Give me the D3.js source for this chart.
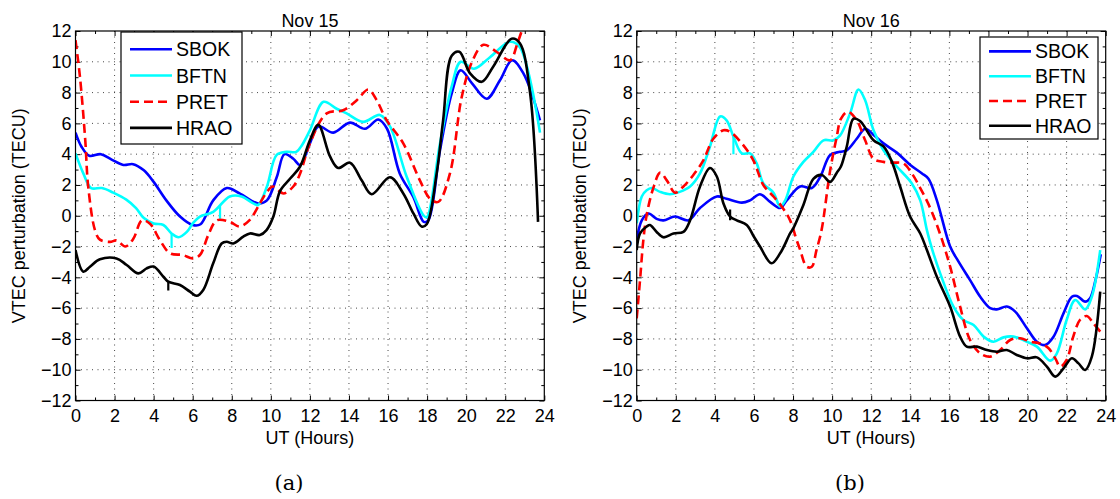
<!DOCTYPE html>
<html>
<head>
<meta charset="utf-8">
<script src="https://cdn.jsdelivr.net/npm/d3@7"></script>
<style>
  body { margin: 0; background: #fff; }
  svg { display: block; }
  text { font-family: "Liberation Sans", Arial, sans-serif; fill: #000; }
</style>
</head>
<body>
<div id="display"></div>
<script>
// stations, in legend order
var stations = ["SBOK", "BFTN", "PRET", "HRAO"];
var colors = ["#0000ff", "#00ffff", "#ff0000", "#000000"];

var xTicks = [0, 2, 4, 6, 8, 10, 12, 14, 16, 18, 20, 22, 24];
var yTicks = [-12, -10, -8, -6, -4, -2, 0, 2, 4, 6, 8, 10, 12];

// Nov 15 : [UT hour, VTEC perturbation]
var sbok15 = [[0,5.4],[0.3,4.5],[0.7,3.9],[1.3,4.0],[1.85,3.65],[2.45,3.3],[2.95,3.35],[3.5,2.95],[4.0,2.2],[4.65,1.0],[5.35,-0.05],[6.0,-0.6],[6.4,-0.55],[7.05,1.0],[7.75,1.8],[8.4,1.45],[9.35,0.8],[9.8,1.0],[10.3,2.5],[10.7,4.0],[11.15,3.7],[11.5,3.3],[12.0,4.7],[12.43,5.8],[13.2,5.4],[14.05,6.05],[14.82,5.65],[15.5,6.25],[15.95,5.65],[16.6,2.75],[17.3,1.2],[17.83,-0.4],[18.06,-0.3],[18.66,4.25],[19.26,7.95],[19.72,9.45],[20.3,8.6],[21.05,7.6],[21.73,8.8],[22.35,10.1],[22.93,9.25],[23.78,6.2]];
var bftn15 = [[0,4.05],[0.4,2.75],[0.8,1.8],[1.35,1.8],[1.93,1.5],[2.6,1.05],[3.1,0.5],[3.5,-0.15],[4.0,-0.5],[4.5,-0.6],[4.92,-1.15],[5.27,-1.4],[5.7,-1.05],[6.0,-0.5],[6.37,-0.05],[7.05,0.25],[7.9,1.25],[8.5,1.25],[9.1,0.8],[9.35,0.7],[9.8,1.9],[10.3,3.95],[10.8,4.15],[11.3,4.15],[11.6,4.6],[12.0,5.55],[12.7,7.4],[13.37,6.95],[13.88,6.65],[14.73,6.1],[15.58,6.55],[16.1,5.8],[16.95,2.55],[17.8,0.05],[17.98,-0.1],[18.66,4.7],[19.26,8.4],[19.72,10.0],[20.4,9.55],[21.22,10.3],[22.24,11.3],[22.75,10.95],[23.78,5.4]];
var pret15 = [[0,11.4],[0.23,9.0],[0.5,4.9],[0.65,1.9],[1.0,-0.95],[1.25,-1.55],[1.77,-1.7],[2.1,-1.6],[2.55,-2.0],[2.96,-1.5],[3.4,-0.3],[3.8,-0.5],[4.33,-1.6],[4.84,-2.44],[5.5,-2.55],[6.0,-2.77],[6.37,-2.55],[6.8,-1.25],[7.23,-0.3],[7.9,-0.4],[8.4,-0.7],[8.9,-0.3],[9.44,0.8],[9.8,1.55],[10.1,1.9],[10.65,1.45],[11.15,1.9],[11.5,2.75],[12.0,4.7],[12.86,6.65],[13.7,6.85],[14.4,7.5],[14.99,8.2],[15.42,7.5],[15.93,6.2],[16.78,4.7],[17.63,2.3],[18.15,1.1],[18.57,0.9],[19.17,2.75],[19.77,7.7],[20.3,10.0],[20.88,11.1],[21.56,10.65],[22.24,10.1],[22.65,11.3],[23.0,12.6]];
var hrao15 = [[0,-2.23],[0.4,-3.63],[0.74,-3.31],[1.25,-2.83],[2.1,-2.77],[2.62,-3.2],[3.22,-3.74],[3.64,-3.42],[4.0,-3.3],[4.5,-3.96],[4.75,-4.28],[5.35,-4.5],[5.86,-4.93],[6.2,-5.2],[6.54,-4.82],[7.05,-3.09],[7.48,-1.8],[7.74,-1.69],[8.08,-1.8],[8.59,-1.36],[8.93,-1.15],[9.44,-1.25],[9.78,-0.93],[10.13,-0.05],[10.47,1.6],[10.98,2.4],[11.5,3.2],[12.0,4.9],[12.43,5.9],[13.03,3.85],[13.45,3.1],[14.05,3.45],[14.65,2.3],[15.16,1.4],[16.1,2.5],[16.78,1.45],[17.3,0.15],[17.72,-0.7],[17.98,-0.55],[18.49,2.75],[18.82,6.2],[19.26,10.4],[19.65,10.65],[20.2,9.25],[20.8,8.7],[21.39,9.7],[22.33,11.5],[22.75,11.2],[23.27,8.0],[23.68,-0.4]];

// Nov 16
var sbok16 = [[0,-1.6],[0.26,-0.3],[0.6,0.15],[1.02,-0.2],[1.37,-0.3],[1.96,-0.05],[2.65,-0.3],[3.24,0.5],[4.1,1.25],[4.6,1.1],[5.38,0.85],[5.8,1.0],[6.31,1.4],[6.83,0.9],[7.34,0.5],[7.68,1.0],[8.36,1.9],[8.96,1.8],[9.4,2.55],[9.9,3.95],[10.4,4.15],[10.75,4.25],[11.26,5.0],[11.69,5.65],[12.12,5.25],[12.63,4.7],[13.31,4.1],[14.0,3.3],[14.6,2.75],[14.93,2.4],[15.36,1.0],[16.04,-2.0],[16.47,-2.98],[17.06,-4.18],[17.58,-5.26],[18.09,-6.0],[18.43,-6.08],[18.94,-5.9],[19.37,-6.23],[19.97,-7.31],[20.48,-8.18],[20.9,-8.4],[21.33,-7.86],[21.84,-6.34],[22.27,-5.26],[22.53,-5.21],[22.95,-5.58],[23.2,-5.36],[23.46,-4.28],[23.75,-2.5]];
var bftn16 = [[0,-0.5],[0.26,1.25],[0.51,1.65],[0.77,1.8],[1.2,1.55],[1.7,1.4],[2.2,1.55],[2.73,1.9],[3.24,2.75],[3.75,4.5],[4.27,6.45],[4.6,6.2],[4.95,5.15],[5.38,4.05],[5.8,4.05],[6.14,3.4],[6.48,2.1],[7.0,1.5],[7.34,0.6],[7.6,1.0],[8.02,2.55],[8.53,3.5],[9.04,4.15],[9.56,4.9],[10.07,4.9],[10.4,5.2],[10.92,6.65],[11.35,8.2],[11.69,7.5],[12.12,5.55],[12.63,4.25],[13.31,3.2],[14.08,2.1],[14.51,1.0],[14.85,-0.93],[15.1,-2.1],[15.53,-3.74],[16.21,-5.9],[16.72,-6.77],[17.24,-7.1],[17.75,-7.85],[18.26,-8.18],[18.77,-7.9],[19.28,-7.85],[19.97,-8.18],[20.48,-8.5],[21.16,-9.41],[21.5,-8.94],[22.0,-6.77],[22.44,-5.47],[22.95,-6.08],[23.29,-5.26],[23.72,-2.23]];
var pret16 = [[0,-6.66],[0.17,-4.18],[0.34,-1.58],[0.51,0.05],[0.85,1.8],[1.2,2.8],[1.54,2.3],[1.96,1.5],[2.39,1.9],[2.9,2.65],[3.41,3.6],[3.92,5.0],[4.44,5.55],[4.78,5.45],[5.38,4.7],[5.97,3.6],[6.48,2.0],[7.0,1.25],[7.42,0.6],[7.85,-0.3],[8.19,-1.6],[8.36,-2.2],[8.7,-3.31],[8.96,-3.31],[9.2,-2.23],[9.46,-0.93],[9.9,2.95],[10.24,5.15],[10.45,6.3],[10.8,6.75],[11.26,6.2],[11.69,4.9],[12.12,3.7],[12.63,3.5],[13.14,3.45],[13.65,3.4],[14.08,2.75],[14.51,1.8],[15.02,0.5],[15.53,-1.2],[16.04,-3.31],[16.55,-5.9],[17.06,-8.07],[17.58,-8.94],[18.09,-9.15],[18.6,-8.72],[19.11,-8.07],[19.62,-7.96],[20.14,-8.18],[20.65,-8.29],[21.08,-8.61],[21.42,-9.26],[21.67,-9.8],[22.0,-9.37],[22.34,-7.85],[22.68,-6.77],[23.03,-6.51],[23.37,-6.99],[23.72,-7.53]];
var hrao16 = [[0,-2.23],[0.17,-1.15],[0.51,-0.7],[0.68,-0.6],[1.02,-1.05],[1.37,-1.4],[1.88,-1.15],[2.39,-1.05],[2.73,-0.3],[3.24,1.9],[3.75,3.1],[4.1,2.55],[4.44,0.8],[4.78,-0.05],[5.12,-0.3],[5.63,-0.6],[5.97,-1.3],[6.31,-2.0],[6.9,-3.09],[7.34,-2.44],[7.85,-1.15],[8.02,-0.8],[8.53,0.7],[9.04,2.4],[9.47,2.65],[9.9,2.2],[10.24,2.8],[10.45,3.2],[10.75,4.5],[11.09,6.3],[11.43,6.15],[12.12,4.9],[12.63,4.5],[13.06,3.5],[13.48,1.9],[13.99,-0.05],[14.51,-1.15],[14.85,-2.23],[15.36,-3.96],[16.04,-5.9],[16.55,-7.85],[16.89,-8.5],[17.41,-8.5],[17.92,-8.72],[18.43,-8.83],[18.94,-8.72],[19.45,-9.04],[19.97,-9.26],[20.48,-9.2],[20.99,-9.8],[21.42,-10.45],[21.84,-9.91],[22.27,-9.26],[22.61,-9.59],[22.95,-10.02],[23.29,-9.15],[23.72,-4.93]];

// short vertical glitches in the records: [station index, hour, from, to]
var spikes15 = [[1,4.92,-1.15,-2.1],[1,7.4,0.7,-0.2],[3,4.75,-4.28,-4.85]];
var spikes16 = [[1,4.95,5.15,4.0],[3,4.78,0.4,-0.3]];

var panels = [
  {title: "Nov 15", caption: "(a)", series: [sbok15, bftn15, pret15, hrao15], spikes: spikes15,
   left: 75.5, right: 544.3, ylabX: 19, capX: 289,
   legend: {x: 121, y: 32, w: 121, h: 112, row0: 17.3, step: 26.2}},
  {title: "Nov 16", caption: "(b)", series: [sbok16, bftn16, pret16, hrao16], spikes: spikes16,
   left: 636.7, right: 1105.7, ylabX: 580, capX: 850,
   legend: {x: 980, y: 37, w: 118, h: 102, row0: 14.4, step: 24.8}}
];

var plotTop = 31, plotBottom = 400.5;
var width = 1120, height = 499;
var fs = "18px";

var svg = d3.select("#display")
    .append("svg")
    .attr("width", width)
    .attr("height", height);

panels.forEach(function(p, pi) {
  var x = d3.scaleLinear().domain([0, 24]).range([p.left, p.right]);
  var y = d3.scaleLinear().domain([-12, 12]).range([plotBottom, plotTop]);
  var g = svg.append("g");

  // dotted grid
  g.append("g").selectAll("line").data(xTicks.slice(1, -1)).join("line")
      .attr("x1", d => x(d)).attr("x2", d => x(d))
      .attr("y1", plotTop).attr("y2", plotBottom)
      .attr("stroke", "#333").attr("stroke-width", 0.9).attr("stroke-dasharray", "1,4.5");
  g.append("g").selectAll("line").data(yTicks.slice(1, -1)).join("line")
      .attr("y1", d => y(d)).attr("y2", d => y(d))
      .attr("x1", p.left).attr("x2", p.right)
      .attr("stroke", "#333").attr("stroke-width", 0.9).attr("stroke-dasharray", "1,4.5");

  // axes, ticks pointing inward on all four sides
  var minorX = d3.range(1, 24, 2), minorY = d3.range(-11, 12, 2);
  function ax(gen, scale, major, minor, t, labels) {
    var a = g.append("g").attr("transform", t)
        .call(gen(scale).tickValues(major).tickSize(-5).tickPadding(labels ? (gen === d3.axisBottom ? 9 : 4) : 0)
              .tickFormat(labels ? (d => d < 0 ? "\u2212" + Math.abs(d) : d) : ""));
    a.select(".domain").remove();
    a.selectAll("text").style("font-size", fs).style("font-family", "Liberation Sans, Arial, sans-serif");
    var b = g.append("g").attr("transform", t)
        .call(gen(scale).tickValues(minor).tickSize(-3).tickFormat(""));
    b.select(".domain").remove();
  }
  ax(d3.axisBottom, x, xTicks, minorX, "translate(0," + plotBottom + ")", true);
  ax(d3.axisTop, x, xTicks, minorX, "translate(0," + plotTop + ")", false);
  ax(d3.axisLeft, y, yTicks, minorY, "translate(" + p.left + ",0)", true);
  ax(d3.axisRight, y, yTicks, minorY, "translate(" + p.right + ",0)", false);

  // lines
  var clipId = "clip" + pi;
  g.append("clipPath").attr("id", clipId).append("rect")
      .attr("x", p.left).attr("y", plotTop).attr("width", p.right - p.left).attr("height", plotBottom - plotTop);

  var line = d3.line()
      .x(d => x(d[0]))
      .y(d => y(d[1]))
      .curve(d3.curveCatmullRom.alpha(0.5));

  var lines = g.append("g").attr("clip-path", "url(#" + clipId + ")");
  p.series.forEach(function(s, i) {
    lines.append("path")
        .datum(s)
        .attr("fill", "none")
        .attr("stroke", colors[i])
        .attr("stroke-width", 2.6)
        .attr("stroke-linejoin", "round")
        .attr("stroke-dasharray", stations[i] == "PRET" ? "9,5" : null)
        .attr("d", line);
    lines.selectAll(null)
        .data(p.spikes.filter(k => k[0] == i))
        .join("line")
        .attr("x1", d => x(d[1])).attr("x2", d => x(d[1]))
        .attr("y1", d => y(d[2])).attr("y2", d => y(d[3]))
        .attr("stroke", colors[i]).attr("stroke-width", 2.2);
  });

  // box
  g.append("rect")
      .attr("x", p.left).attr("y", plotTop)
      .attr("width", p.right - p.left).attr("height", plotBottom - plotTop)
      .attr("fill", "none").attr("stroke", "#000").attr("stroke-width", 1.2);

  // legend
  var L = p.legend;
  var lg = g.append("g");
  lg.append("rect").attr("x", L.x).attr("y", L.y).attr("width", L.w).attr("height", L.h)
      .attr("fill", "#fff").attr("stroke", "#000").attr("stroke-width", 1.2);
  stations.forEach(function(name, i) {
    var yy = L.y + L.row0 + i * L.step;
    lg.append("line")
        .attr("x1", L.x + 9).attr("x2", L.x + 51)
        .attr("y1", yy).attr("y2", yy)
        .attr("stroke", colors[i]).attr("stroke-width", 2.6)
        .attr("stroke-dasharray", name == "PRET" ? "9,5" : null);
    lg.append("text")
        .attr("x", L.x + 55).attr("y", yy).attr("dy", "0.36em")
        .style("font-size", "19.5px")
        .text(name);
  });

  // titles and labels
  var cx = (p.left + p.right) / 2;
  g.append("text").attr("x", cx).attr("y", 27).attr("text-anchor", "middle")
      .style("font-size", fs).text(p.title);
  g.append("text").attr("x", cx).attr("y", 444).attr("text-anchor", "middle")
      .style("font-size", fs).text("UT (Hours)");
  g.append("text")
      .attr("transform", "translate(" + p.ylabX + "," + ((plotTop + plotBottom) / 2) + ") rotate(-90)")
      .attr("text-anchor", "middle").attr("dy", "0.35em")
      .style("font-size", fs).text("VTEC perturbation (TECU)");
  g.append("text").attr("x", p.capX).attr("y", 490).attr("text-anchor", "middle")
      .style("font-family", "DejaVu Serif, Liberation Serif, serif").style("font-size", "21px")
      .text(p.caption);
});
</script>
</body>
</html>
